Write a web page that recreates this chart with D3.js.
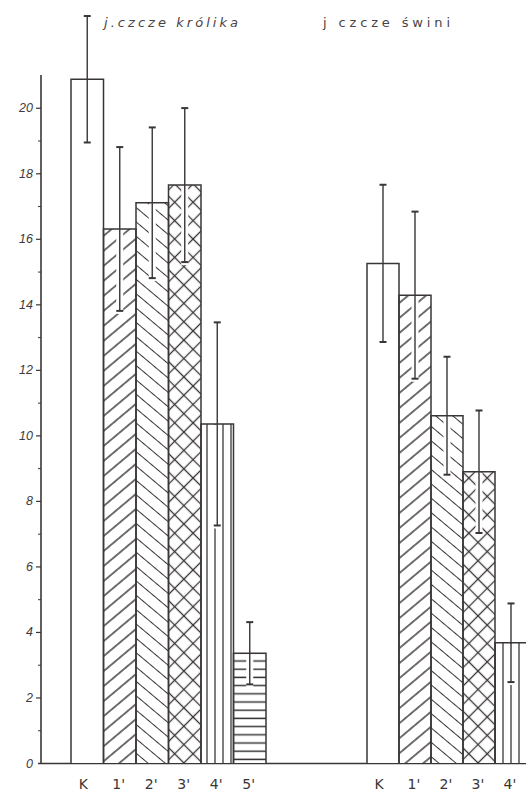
<!DOCTYPE html>
<html><head><meta charset="utf-8">
<script src="https://cdn.jsdelivr.net/npm/d3@7"></script>
<style>html,body{margin:0;padding:0;background:#fff;}svg{display:block;}</style>
</head><body>
<script>
// ---- data ----
const groupTitles = ["j.czcze królika", "j czcze świni"];
const catsRabbit = ["K", "1'", "2'", "3'", "4'", "5'"];
const meanRabbit = [20.87, 16.3, 17.1, 17.64, 10.35, 3.35];
const errRabbit  = [1.93, 2.5, 2.3, 2.35, 3.1, 0.95];
const catsPig = ["K", "1'", "2'", "3'", "4'"];
const meanPig = [15.25, 14.28, 10.6, 8.89, 3.67];
const errPig  = [2.4, 2.55, 1.8, 1.87, 1.2];
const fillKinds = ["none", "fwd", "back", "cross", "vert", "horiz"];
const yMajorTicks = [0, 2, 4, 6, 8, 10, 12, 14, 16, 18, 20];
const yMinorTicks = [1, 3, 5, 7, 9, 11, 13, 15, 17, 19];

const W = 526, H = 794;
const ink = "#3a3636";
const svg = d3.select("body").append("svg").attr("width", W).attr("height", H)
  .style("font-family", "'DejaVu Sans', sans-serif");

const y = d3.scaleLinear().domain([0, 21]).range([763, 75]);
const xR = d3.scaleBand().domain(catsRabbit).range([71, 266]).padding(0);
const xP = d3.scaleBand().domain(catsPig).range([367, 527]).padding(0);

// patterns
const defs = svg.append("defs");
function linePattern(id, angle, gap, w) {
  const p = defs.append("pattern").attr("id", id).attr("patternUnits", "userSpaceOnUse")
    .attr("width", 40).attr("height", gap).attr("patternTransform", `rotate(${angle})`);
  p.append("rect").attr("width", 40).attr("height", gap).attr("fill", "#fff");
  p.append("line").attr("x1", 0).attr("x2", 40).attr("y1", gap / 2).attr("y2", gap / 2)
    .attr("stroke", ink).attr("stroke-width", w);
}
linePattern("fwd", -40, 11.5, 1.2);
linePattern("back", 40, 11, 1.2);
{
  const p = defs.append("pattern").attr("id", "cross").attr("patternUnits", "userSpaceOnUse")
    .attr("width", 13).attr("height", 13).attr("patternTransform", "rotate(45)");
  p.append("rect").attr("width", 13).attr("height", 13).attr("fill", "#fff");
  p.append("line").attr("x1", 0).attr("x2", 13).attr("y1", 6.5).attr("y2", 6.5).attr("stroke", ink).attr("stroke-width", 1.3);
  p.append("line").attr("x1", 6.5).attr("x2", 6.5).attr("y1", 0).attr("y2", 13).attr("stroke", ink).attr("stroke-width", 1.3);
}
{
  const p = defs.append("pattern").attr("id", "vert").attr("patternUnits", "userSpaceOnUse")
    .attr("width", 8).attr("height", 10).attr("x", 3);
  p.append("rect").attr("width", 8).attr("height", 10).attr("fill", "#fff");
  p.append("line").attr("x1", 4).attr("x2", 4).attr("y1", 0).attr("y2", 10).attr("stroke", ink).attr("stroke-width", 1.3);
}
{
  const p = defs.append("pattern").attr("id", "horiz").attr("patternUnits", "userSpaceOnUse")
    .attr("width", 10).attr("height", 8.2).attr("y", 1);
  p.append("rect").attr("width", 10).attr("height", 8.2).attr("fill", "#fff");
  p.append("line").attr("x1", 0).attr("x2", 10).attr("y1", 4).attr("y2", 4).attr("stroke", ink).attr("stroke-width", 1.5);
}

// y axis
const yAxis = d3.axisLeft(y).tickValues(yMajorTicks).tickSize(5).tickPadding(3).tickFormat(d3.format("d"));
const gy = svg.append("g").attr("transform", "translate(41,0)").call(yAxis);
gy.select(".domain").remove();
gy.selectAll(".tick line").attr("stroke", ink).attr("stroke-width", 1.2);
gy.selectAll(".tick text").attr("fill", "#3e3a3a").style("font-size", "12.5px").style("font-style", "italic");
gy.selectAll(".tick").filter(d => d === 0).select("line").remove();
const gm = svg.append("g").attr("transform", "translate(41,0)")
  .call(d3.axisLeft(y).tickValues(yMinorTicks).tickSize(3).tickFormat(""));
gm.select(".domain").remove();
gm.selectAll(".tick line").attr("stroke", ink).attr("stroke-width", 1);
svg.append("line").attr("x1", 41).attr("x2", 41).attr("y1", y(0)).attr("y2", y(21))
  .attr("stroke", ink).attr("stroke-width", 1.6);
// baseline
svg.append("line").attr("x1", 38).attr("x2", W).attr("y1", y(0) + 0.5).attr("y2", y(0) + 0.5)
  .attr("stroke", ink).attr("stroke-width", 1.6);

function drawGroup(cats, means, errs, x, title, tx0, tx1, italic) {
  const data = cats.map((c, i) => ({ c, m: means[i], e: errs[i], f: fillKinds[i] }));
  const g = svg.append("g");
  g.selectAll("rect.fill").data(data).join("rect").attr("class", "fill")
    .attr("x", d => x(d.c)).attr("width", x.bandwidth())
    .attr("y", d => y(d.m)).attr("height", d => y(0) - y(d.m))
    .attr("fill", d => d.f === "none" ? "#fff" : `url(#${d.f})`);
  g.selectAll("line.halo").data(data).join("line").attr("class", "halo")
    .attr("x1", d => x(d.c) + x.bandwidth() / 2).attr("x2", d => x(d.c) + x.bandwidth() / 2)
    .attr("y1", d => y(d.m) + 1).attr("y2", d => y(d.m - d.e) + 3)
    .attr("stroke", "#fff").attr("stroke-width", d => d.f === "none" ? 0 : 7);
  g.selectAll("path.outline").data(data).join("path").attr("class", "outline")
    .attr("d", d => `M${x(d.c)},${y(0)}V${y(d.m)}H${x(d.c) + x.bandwidth()}V${y(0)}`)
    .attr("fill", "none").attr("stroke", ink).attr("stroke-width", 1.5);
  const cx = d => x(d.c) + x.bandwidth() / 2;
  g.selectAll("line.err").data(data).join("line").attr("class", "err")
    .attr("x1", cx).attr("x2", cx).attr("y1", d => y(d.m + d.e)).attr("y2", d => y(d.m - d.e))
    .attr("stroke", ink).attr("stroke-width", 1.4);
  g.selectAll("line.capT").data(data).join("line").attr("class", "capT")
    .attr("x1", d => cx(d) - 3.5).attr("x2", d => cx(d) + 3.5)
    .attr("y1", d => y(d.m + d.e)).attr("y2", d => y(d.m + d.e))
    .attr("stroke", ink).attr("stroke-width", 2);
  g.selectAll("line.capB").data(data).join("line").attr("class", "capB")
    .attr("x1", d => cx(d) - 3.5).attr("x2", d => cx(d) + 3.5)
    .attr("y1", d => y(d.m - d.e)).attr("y2", d => y(d.m - d.e))
    .attr("stroke", ink).attr("stroke-width", 2);
  g.selectAll("text.cat").data(data).join("text").attr("class", "cat")
    .attr("x", d => cx(d) - (d.c === "K" ? 4 : 1)).attr("y", 789)
    .attr("text-anchor", "middle").attr("fill", ink).style("font-size", "14px")
    .text(d => d.c);
  svg.append("text").attr("x", tx0).attr("y", 27).attr("fill", "#4a4444")
    .attr("textLength", tx1 - tx0).attr("lengthAdjust", "spacing")
    .style("font-size", "13px").style("font-style", italic ? "italic" : "normal").text(title);
}
drawGroup(catsRabbit, meanRabbit, errRabbit, xR, groupTitles[0], 104, 238, true);
drawGroup(catsPig, meanPig, errPig, xP, groupTitles[1], 323, 450, false);
</script>
</body></html>
